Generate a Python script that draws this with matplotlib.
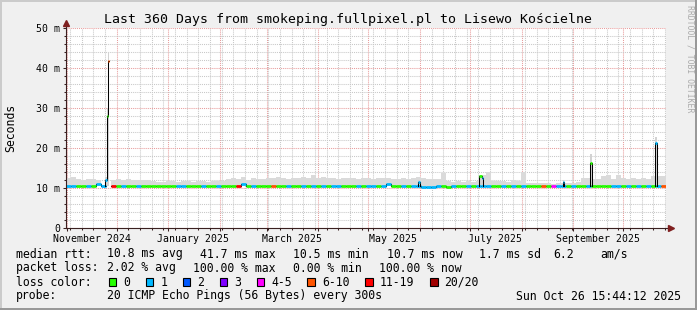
import datetime as dt
import numpy as np
import matplotlib
matplotlib.use("Agg")
import matplotlib.pyplot as plt
from matplotlib.patches import Rectangle
from matplotlib.ticker import MultipleLocator, FuncFormatter
import matplotlib.dates as mdates

plt.rcParams['font.family'] = ['DejaVu Sans Mono']

W, H = 697, 310

end_time = dt.datetime(2025, 10, 26, 15, 44, 12)
start_time = end_time - dt.timedelta(days=360)
step = dt.timedelta(days=3)
nan = float('nan')

# one value per 3-day step (ms)
median_ms = [
    10.6, 10.6, 10.6, 10.6, 10.6, 10.6, 11.0, 10.6, nan, 10.6,
    10.6, 10.6, 10.6, 10.6, 10.6, 10.6, 10.6, 10.6, 10.6, 10.6,
    10.6, 10.6, 10.6, 10.6, 10.6, 10.6, 10.6, 10.6, 10.6, 10.6,
    10.6, 10.6, 10.6, 10.6, 10.6, 11.0, 10.6, 10.6, 10.6, 10.6,
    10.6, 10.6, 10.6, 10.6, 10.6, 10.6, 10.6, 10.6, 10.6, 10.6,
    10.6, 10.6, 10.6, 10.6, 10.6, 10.6, 10.6, 10.6, 10.6, 10.6,
    10.6, 10.6, 10.6, 10.6, 11.1, 10.6, 10.6, 10.6, 10.6, 10.6,
    10.6, 10.3, 10.3, 10.3, 10.4, 10.6, 10.3, 10.6, 10.6, 10.6,
    10.6, 10.6, 10.6, 10.6, 10.6, 10.6, 10.6, 10.6, 10.6, 10.6,
    10.6, 10.6, 10.6, 10.6, 10.6, 10.6, 10.6, 10.6, 10.6, 10.6,
    10.6, 10.6, 10.6, 10.6, 10.6, 10.6, 10.6, 10.6, 10.6, 10.6,
    10.6, 10.6, 10.6, 10.6, 10.6, 10.6, 10.6, 10.6, 10.6, 10.6,
]
smoke_top_ms = [
    12.4, 12.8, 12.2, 12.1, 12.3, 12.2, 12.0, 12.2, nan, 12.0,
    12.2, 12.0, 12.3, 12.1, 12.0, 11.9, 12.0, 11.7, 11.6, 11.6,
    11.7, 11.7, 11.6, 11.7, 11.8, 11.6, 11.7, 11.7, 11.6, 11.8,
    11.7, 11.7, 12.2, 12.6, 12.3, 12.8, 12.1, 12.4, 12.3, 12.2,
    12.6, 12.4, 12.7, 12.5, 12.3, 12.6, 12.4, 12.8, 12.6, 13.2,
    12.5, 12.7, 12.4, 12.6, 12.3, 12.5, 12.4, 12.5, 12.3, 12.4,
    12.5, 12.3, 12.4, 12.6, 12.5, 12.3, 12.2, 12.4, 12.3, 12.5,
    12.7, 12.4, 12.3, 12.2, 12.3, 13.8, 11.8, 11.6, 11.7, 11.6,
    11.7, 11.6, 11.7, 13.3, 14.1, 11.8, 11.7, 11.8, 11.6, 11.9,
    11.7, 14.1, 11.3, 11.2, 11.2, 11.3, 11.2, 11.1, 11.2, 11.3,
    11.2, 11.2, 11.4, 12.4, 12.5, 12.3, 12.2, 13.0, 13.2, 12.3,
    13.2, 12.4, 12.3, 12.5, 12.2, 12.4, 12.3, 13.0, 13.0, 13.0,
]
loss_class = [
    1, 1, 0, 0, 1, 0, 1, 1, 0, 6,
    0, 1, 0, 0, 1, 0, 0, 0, 0, 0,
    0, 0, 1, 1, 0, 0, 0, 1, 0, 0,
    1, 0, 0, 0, 6, 1, 0, 1, 0, 0,
    0, 5, 0, 0, 1, 0, 0, 1, 0, 1,
    0, 1, 0, 1, 1, 0, 0, 0, 1, 0,
    1, 1, 0, 1, 1, 0, 0, 1, 0, 1,
    1, 1, 1, 1, 1, 0, 0, 1, 0, 0,
    1, 0, 1, 1, 1, 0, 0, 1, 0, 1,
    0, 1, 0, 0, 0, 5, 0, 4, 1, 1,
    0, 1, 0, 0, 1, 0, 0, 0, 0, 1,
    1, 0, 1, 0, 1, 0, 1, 0, 1, 5,
]

# short events between the steps
event_start = ["2024-11-24 06:00", "2024-11-25 06:00", "2024-11-25 14:00",
               "2025-05-30 20:00", "2025-07-06 06:00", "2025-07-08 01:00",
               "2025-08-25 20:00", "2025-09-11 01:00", "2025-10-20 01:00"]
event_end = ["2024-11-25 06:00", "2024-11-25 14:00", "2024-11-26 04:00",
             "2025-06-01 00:00", "2025-07-08 01:00", "2025-07-08 16:00",
             "2025-08-26 10:00", "2025-09-12 05:00", "2025-10-21 11:00"]
event_median = [12.0, 28.0, 41.7, 11.4, 12.9, 12.4, 11.5, 16.3, 21.2]
event_smoke = [12.8, 30.0, 44.0, 12.0, 13.3, 13.0, 11.9, 18.5, 22.8]
event_loss = [1, 0, 5, 1, 0, 1, 1, 0, 1]

loss_labels = ["0", "1", "2", "3", "4-5", "6-10", "11-19", "20/20"]
loss_colors = ["#26ff00", "#00b8ff", "#0059ff", "#7e00ff",
               "#ff00ff", "#ff5500", "#ff0000", "#a10000"]

x_label_dates = ["2024-11-16", "2025-01-16", "2025-03-16",
                 "2025-05-16", "2025-07-16", "2025-09-16"]
x_labels = ["November 2024", "January 2025", "March 2025",
            "May 2025", "July 2025", "September 2025"]

rtt_stats = ["10.8 ms avg", "41.7 ms max", "10.5 ms min", "10.7 ms now",
             "1.7 ms sd", "6.2", "am/s"]
loss_stats = ["2.02 % avg", "100.00 % max", "0.00 % min", "100.00 % now"]
probe_text = "20 ICMP Echo Pings (56 Bytes) every 300s"
stamp_text = "Sun Oct 26 15:44:12 2025"
title = "Last 360 Days from smokeping.fullpixel.pl to Lisewo Kościelne"

axis_c = "#3a2020"
arrow_c = "#7f1f1f"

fig = plt.figure(figsize=(W / 100, H / 100), dpi=100, facecolor="#f0f0f0")
ax = fig.add_axes([66 / W, 1 - 228 / H, 600 / W, 200 / H])
ax.set_facecolor("white")


def fx(x):
    return x / W


def fy(y):
    return 1 - y / H


edges = [start_time + i * step for i in range(len(median_ms) + 1)]
med = np.array(median_ms, float)
top = np.array(smoke_top_ms, float)
med_e = np.append(med, med[-1])
top_e = np.append(top, top[-1])

ax.fill_between(edges, med_e, top_e, step="post", color="#dadada", lw=0, zorder=2)
ax.step(edges, med_e, where="post", color="black", lw=0.75, zorder=3)
ok = ~np.isnan(med)
ax.hlines(med[ok], np.array(edges[:-1])[ok], np.array(edges[1:])[ok],
          colors=[loss_colors[c] for c, k in zip(loss_class, ok) if k],
          lw=2.0, zorder=4)

# events, chained when one ends where the next starts
ev_t0 = [dt.datetime.fromisoformat(s) for s in event_start]
ev_t1 = [dt.datetime.fromisoformat(s) for s in event_end]
groups = []
for i in range(len(ev_t0)):
    if groups and ev_t0[i] == ev_t1[groups[-1][-1]]:
        groups[-1].append(i)
    else:
        groups.append([i])

for g in groups:
    xs = [ev_t0[g[0]]]
    ys = [10.6]
    for i in g:
        ax.fill_between([ev_t0[i], ev_t1[i]], [10.6, 10.6],
                        [event_smoke[i]] * 2, color="#d2d2d2", lw=0, zorder=2)
        xs += [ev_t0[i], ev_t1[i]]
        ys += [event_median[i], event_median[i]]
    t_end = ev_t1[g[-1]]
    k = int((t_end - start_time) / step)
    if k < len(med) and not np.isnan(med[k]):
        xs.append(t_end)
        ys.append(med[k])
    ax.plot(xs, ys, color="black", lw=0.75, zorder=5)
    for i in g:
        ax.hlines(event_median[i], ev_t0[i], ev_t1[i],
                  colors=loss_colors[event_loss[i]], lw=2.0, zorder=6)

ax.set_xlim(start_time, end_time)
ax.set_ylim(0, 50)

ax.xaxis.set_major_locator(mdates.MonthLocator())
ax.xaxis.set_minor_locator(mdates.WeekdayLocator(byweekday=mdates.SU))
ax.xaxis.set_major_formatter(FuncFormatter(lambda v, p: ""))
ax.yaxis.set_major_locator(MultipleLocator(10))
ax.yaxis.set_minor_locator(MultipleLocator(2))
ax.yaxis.set_major_formatter(FuncFormatter(lambda v, p: "0" if v == 0 else "%d m" % v))

ax.grid(which="minor", color="#c8c8c8", lw=0.75, ls=(0, (1, 1)), zorder=1)
ax.grid(which="major", color="#e89c9c", lw=0.75, ls=(0, (1, 1)), zorder=1)
ax.set_axisbelow(True)

ax.tick_params(which="major", length=2.2, width=0.75, color=axis_c,
               labelsize=7.1, pad=2.2)
ax.tick_params(which="minor", length=1.4, width=0.75, color=axis_c)

for s in ax.spines.values():
    s.set_visible(False)
ax.plot([0, 0], [0, 1 + 3 / 200], transform=ax.transAxes, clip_on=False,
        color=axis_c, lw=0.8, zorder=7)
ax.plot([0, 1 + 2 / 600], [0, 0], transform=ax.transAxes, clip_on=False,
        color=axis_c, lw=0.8, zorder=7)
ax.plot([0], [1 + 4.6 / 200], marker="^", ms=4.5, color=arrow_c, mec=arrow_c,
        transform=ax.transAxes, clip_on=False, zorder=8)
ax.plot([1 + 5 / 600], [0], marker=">", ms=4.5, color=arrow_c, mec=arrow_c,
        transform=ax.transAxes, clip_on=False, zorder=8)

for d, lab in zip(x_label_dates, x_labels):
    ax.text(dt.datetime.fromisoformat(d), -10.5 / 200, lab,
            transform=ax.get_xaxis_transform(), ha="center", va="center",
            fontsize=7.1)

fig.text(fx(348), fy(19), title, ha="center", va="center", fontsize=9.5)
fig.text(fx(11), fy(128), "Seconds", rotation=90, ha="center", va="center",
         fontsize=8.3)
fig.text(fx(690), fy(5), "RRDTOOL / TOBI OETIKER", rotation=270, ha="center",
         va="top", fontsize=5.9, color="#ababab")

fs = 8.3
rows = [254, 268, 282, 296]
fig.text(fx(16), fy(rows[0]), "median rtt:", va="center", fontsize=fs)
for x, s in zip([107, 200, 293, 387, 479, 553, 600], rtt_stats):
    fig.text(fx(x), fy(rows[0]), s, va="center", fontsize=fs)
fig.text(fx(16), fy(rows[1]), "packet loss:", va="center", fontsize=fs)
for x, s in zip([107, 193, 293, 379], loss_stats):
    fig.text(fx(x), fy(rows[1]), s, va="center", fontsize=fs)
fig.text(fx(16), fy(rows[2]), "loss color:", va="center", fontsize=fs)
bx = 108.7
for lab, col in zip(loss_labels, loss_colors):
    fig.patches.append(Rectangle((fx(bx), fy(rows[2] + 4)), 7.5 / W, 8 / H,
                                 transform=fig.transFigure, facecolor=col,
                                 edgecolor="black", lw=0.8))
    lx = bx + 14.5
    fig.text(fx(lx), fy(rows[2]), lab, va="center", fontsize=fs)
    bx = lx + len(lab) * 6.96 + 15.5
fig.text(fx(16), fy(rows[3]), "probe:", va="center", fontsize=fs)
fig.text(fx(107), fy(rows[3]), probe_text, va="center", fontsize=fs)
fig.text(fx(681), fy(rows[3]), stamp_text, va="center", ha="right", fontsize=fs)

# 3d frame
for (x0, y0, w, h, c) in [(0, 1 - 2 / H, 1, 2 / H, "#cbcbcb"),
                          (0, 0, 2 / W, 1, "#cbcbcb"),
                          (0, 0, 1, 2 / H, "#999999"),
                          (1 - 2 / W, 0, 2 / W, 1, "#999999")]:
    fig.patches.append(Rectangle((x0, y0), w, h, transform=fig.transFigure,
                                 facecolor=c, edgecolor="none"))

fig.savefig("out.png", dpi=100, facecolor=fig.get_facecolor())
